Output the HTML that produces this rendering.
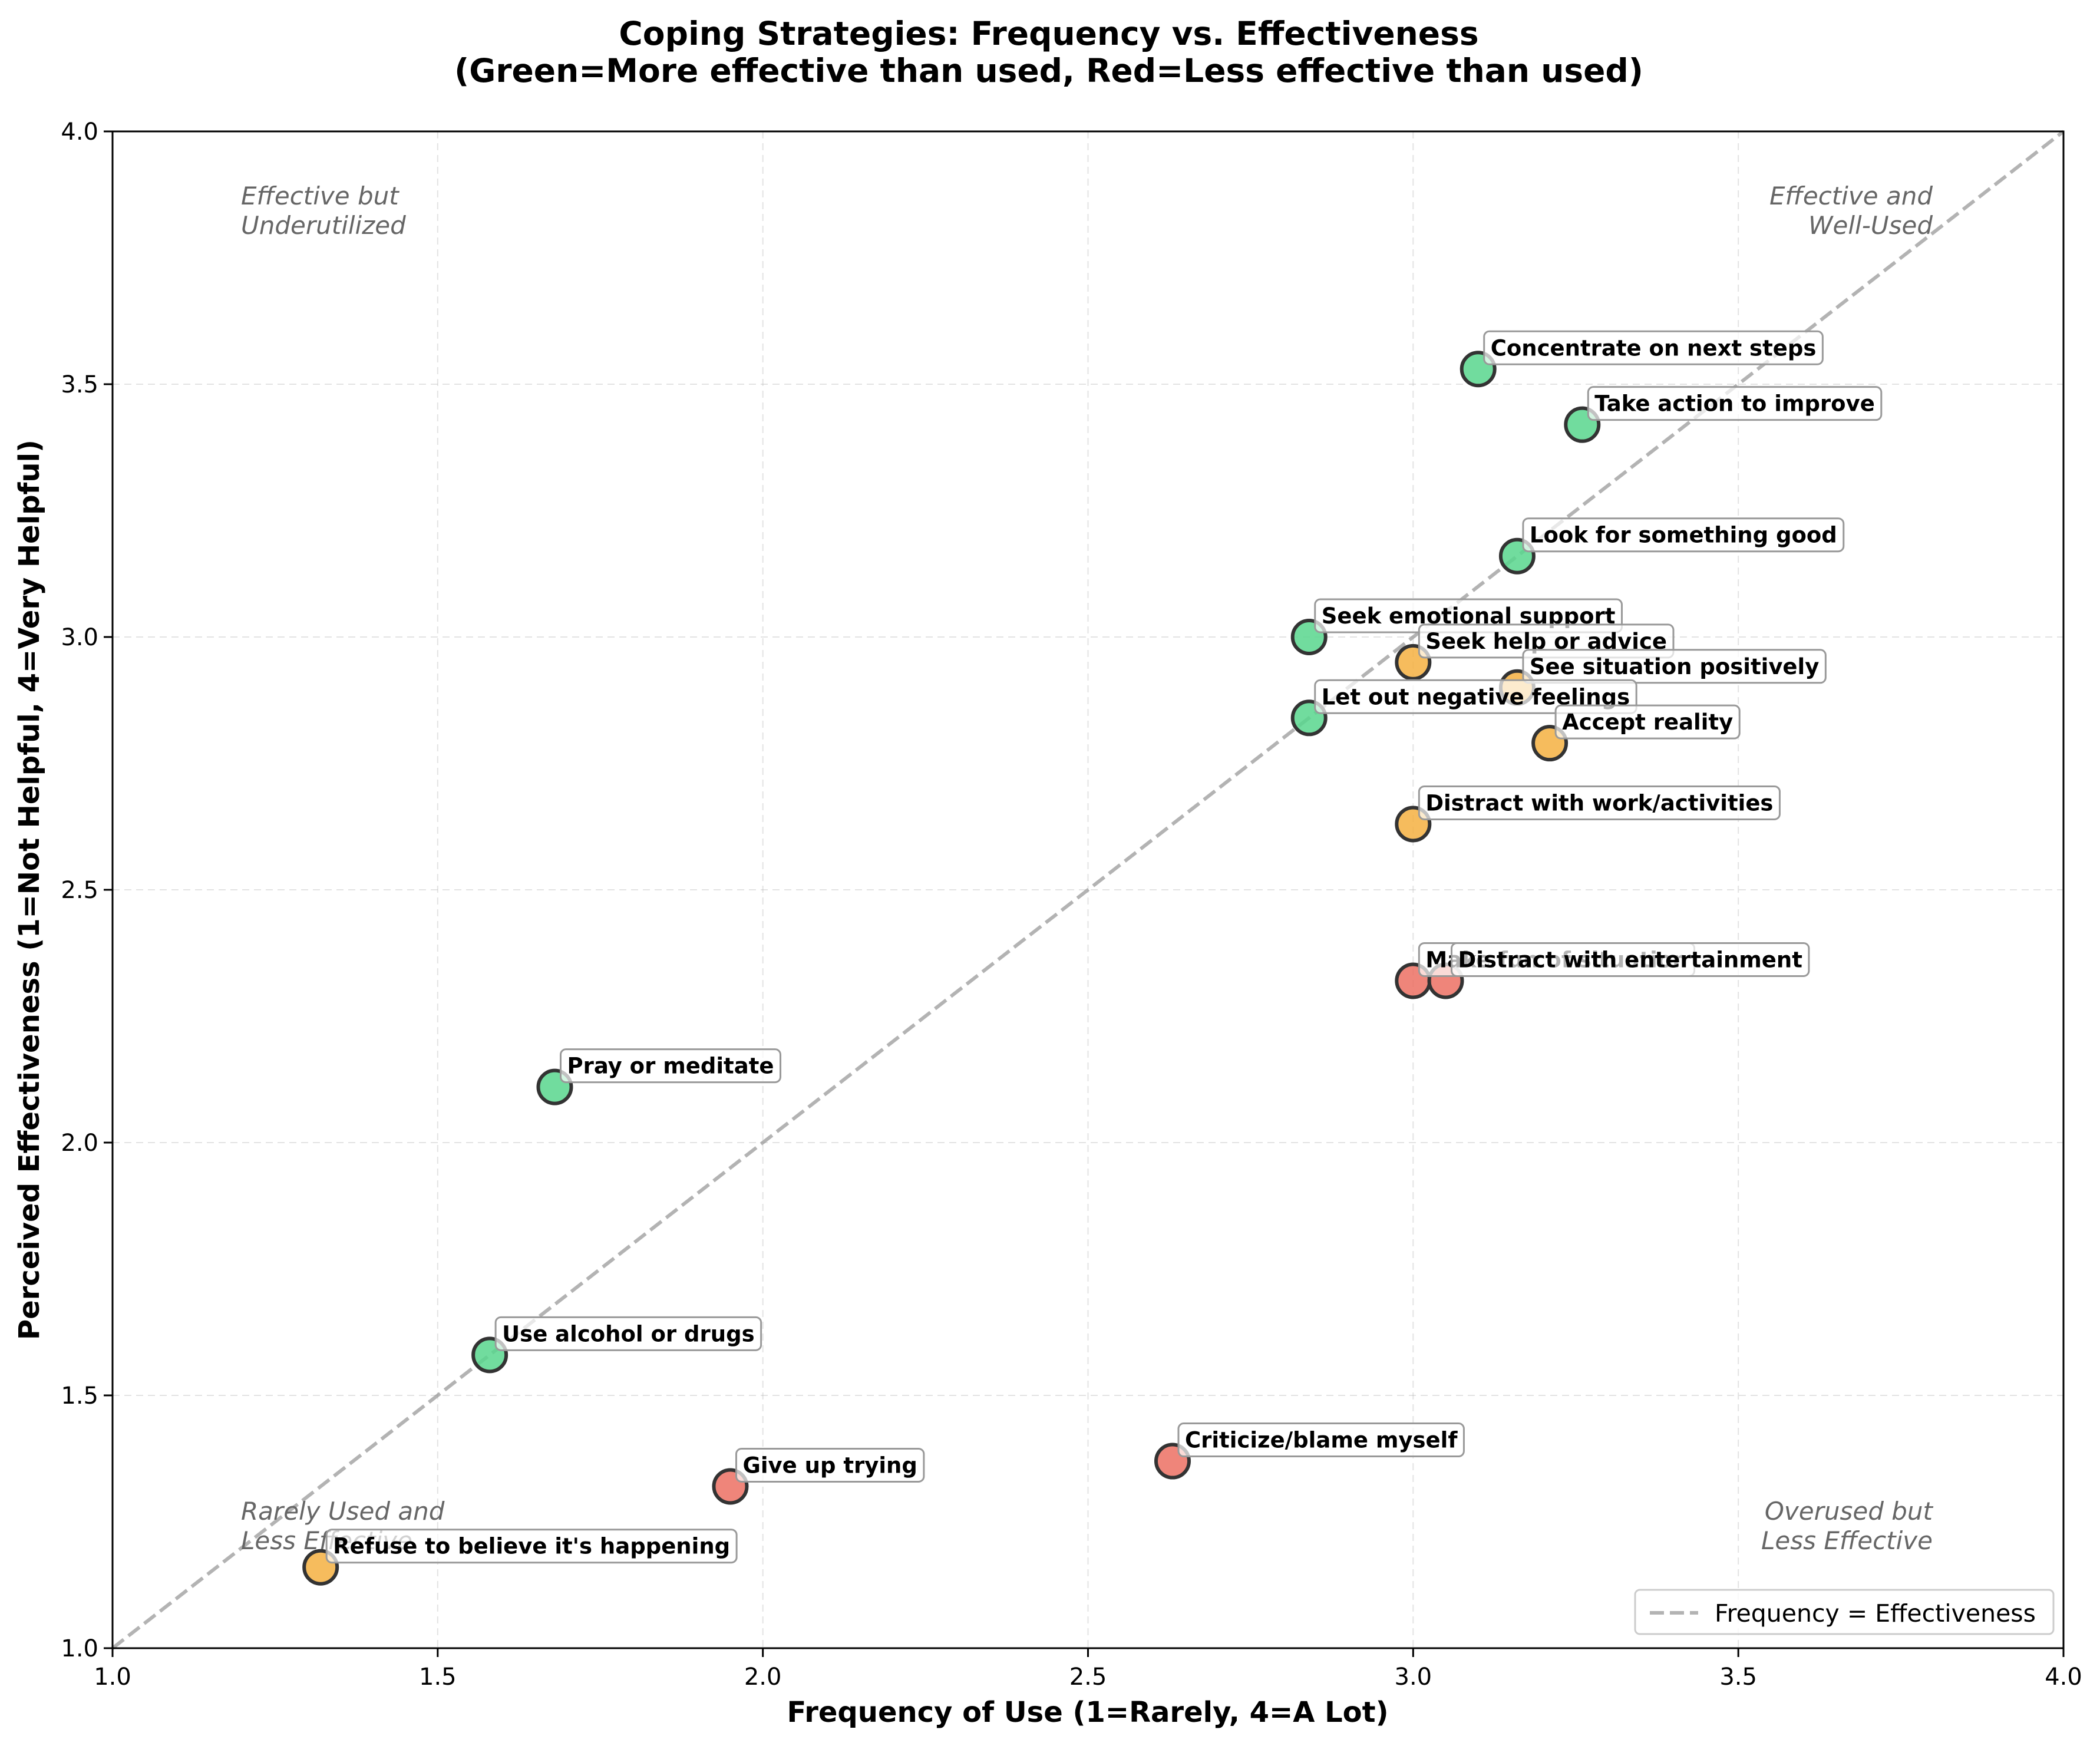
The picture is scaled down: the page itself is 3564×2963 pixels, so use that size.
<!DOCTYPE html>
<html><head><meta charset="utf-8"><style>
html,body{margin:0;padding:0;background:#fff;}
svg{display:block;font-family:"DejaVu Sans","Liberation Sans",sans-serif;}
</style></head><body>
<svg id="chart" width="3564" height="2963" viewBox="0 0 3564 2963" xmlns="http://www.w3.org/2000/svg">
<rect width="3564" height="2963" fill="#fff"/>
<g id="grid"></g>
<g id="diag"></g>
<g id="quad">
<text x="409" y="347" font-size="42" font-style="italic" fill="#666">Effective but</text>
<text x="409" y="397" font-size="42" font-style="italic" fill="#666">Underutilized</text>
<text x="3280" y="347" font-size="42" font-style="italic" fill="#666" text-anchor="end">Effective and</text>
<text x="3280" y="397" font-size="42" font-style="italic" fill="#666" text-anchor="end">Well-Used</text>
<text x="409" y="2579" font-size="42" font-style="italic" fill="#666">Rarely Used and</text>
<text x="409" y="2629" font-size="42" font-style="italic" fill="#666">Less Effective</text>
<text x="3280" y="2579" font-size="42" font-style="italic" fill="#666" text-anchor="end">Overused but</text>
<text x="3280" y="2629" font-size="42" font-style="italic" fill="#666" text-anchor="end">Less Effective</text>
</g>
<g id="points"></g>
<g id="labels"></g>
<rect x="191" y="223" width="3311" height="2574" fill="none" stroke="#000" stroke-width="3"/>
<g id="ticks"></g>
<text x="1780" y="76" font-size="55" font-weight="bold" text-anchor="middle">Coping Strategies: Frequency vs. Effectiveness</text>
<text x="1780" y="139" font-size="55" font-weight="bold" text-anchor="middle">(Green=More effective than used, Red=Less effective than used)</text>
<text x="1846" y="2922" font-size="48" font-weight="bold" text-anchor="middle">Frequency of Use (1=Rarely, 4=A Lot)</text>
<text transform="translate(66,1510) rotate(-90)" font-size="48" font-weight="bold" text-anchor="middle">Perceived Effectiveness (1=Not Helpful, 4=Very Helpful)</text>
<g>
<rect x="2775" y="2698" width="710" height="75" rx="8" fill="#fff" fill-opacity="0.8" stroke="#ccc" stroke-width="3"/>
<line x1="2800" y1="2737" x2="2882" y2="2737" stroke="#999" stroke-opacity="0.75" stroke-width="6" stroke-dasharray="24,10"/>
<text x="2910" y="2752" font-size="41">Frequency = Effectiveness</text>
</g>
</svg>
<script>
const names = ["Concentrate on next steps","Take action to improve","Look for something good","Seek emotional support","Seek help or advice","See situation positively","Let out negative feelings","Accept reality","Distract with work/activities","Make fun of situation","Distract with entertainment","Pray or meditate","Use alcohol or drugs","Criticize/blame myself","Give up trying","Refuse to believe it's happening"];
const frequency = [3.10,3.26,3.16,2.84,3.00,3.16,2.84,3.21,3.00,3.00,3.05,1.68,1.58,2.63,1.95,1.32];
const effectiveness = [3.53,3.42,3.16,3.00,2.95,2.90,2.84,2.79,2.63,2.32,2.32,2.11,1.58,1.37,1.32,1.16];
const categories = ["g","g","g","g","o","o","g","o","o","r","r","g","g","r","r","o"];
const ticks = [1.0,1.5,2.0,2.5,3.0,3.5,4.0];
const tickLabels = ["1.0","1.5","2.0","2.5","3.0","3.5","4.0"];

const NS="http://www.w3.org/2000/svg";
const L=191,R=3502,T=223,B=2797;
function xs(v){return L+(v-1)/3*(R-L);}
function ys(v){return B-(v-1)/3*(B-T);}
function mk(tag,attrs,parent){const e=document.createElementNS(NS,tag);for(const k in attrs)e.setAttribute(k,attrs[k]);parent.appendChild(e);return e;}
const colors={g:"#58d68d",o:"#f5b041",r:"#ec7063"};
const grid=document.getElementById('grid'),tk=document.getElementById('ticks');
ticks.forEach((t,i)=>{
  const gx=mk('line',{x1:xs(t),x2:xs(t),y1:T,y2:B,stroke:'#b0b0b0','stroke-opacity':0.35,'stroke-width':2,'stroke-dasharray':'12,8'},grid);
  
  
  const gy=mk('line',{x1:L,x2:R,y1:ys(t),y2:ys(t),stroke:'#b0b0b0','stroke-opacity':0.35,'stroke-width':2,'stroke-dasharray':'12,8'},grid);
  
  
  mk('line',{x1:xs(t),x2:xs(t),y1:B,y2:B+15,stroke:'#000','stroke-width':3},tk);
  mk('line',{x1:L-15,x2:L,y1:ys(t),y2:ys(t),stroke:'#000','stroke-width':3},tk);
  const tx=mk('text',{x:xs(t),y:B+62,'font-size':40,'text-anchor':'middle'},tk);
  tx.textContent=tickLabels[i];
  
  
  const ty=mk('text',{x:L-24,y:ys(t)+14,'font-size':40,'text-anchor':'end'},tk);
  ty.textContent=tickLabels[i];
  
  
});
const d=mk('line',{x1:xs(1),y1:ys(1),x2:xs(4),y2:ys(4),stroke:'#999','stroke-opacity':0.75,'stroke-width':6,'stroke-dasharray':'24,10'},document.getElementById('diag'));


const pg=document.getElementById('points'),lg=document.getElementById('labels');
names.forEach((n,i)=>{
  const cx=xs(frequency[i]),cy=ys(effectiveness[i]);
  const c=mk('circle',{cx:cx,cy:cy,r:28,fill:colors[categories[i]],'fill-opacity':0.85,stroke:'#333','stroke-width':6},pg);
  
  
  const g=mk('g',{},lg);
  
  
  const rect=mk('rect',{x:cx+10,y:cy-64,height:56,rx:9,fill:'#fff','fill-opacity':0.7,stroke:'#999','stroke-width':3},g);
  const tx=mk('text',{x:cx+21,y:cy-23,'font-size':37,'font-weight':'bold'},g);
  tx.textContent=n;
  const w=tx.getComputedTextLength();
  rect.setAttribute('width',w+22);
});
</script>
</body></html>
